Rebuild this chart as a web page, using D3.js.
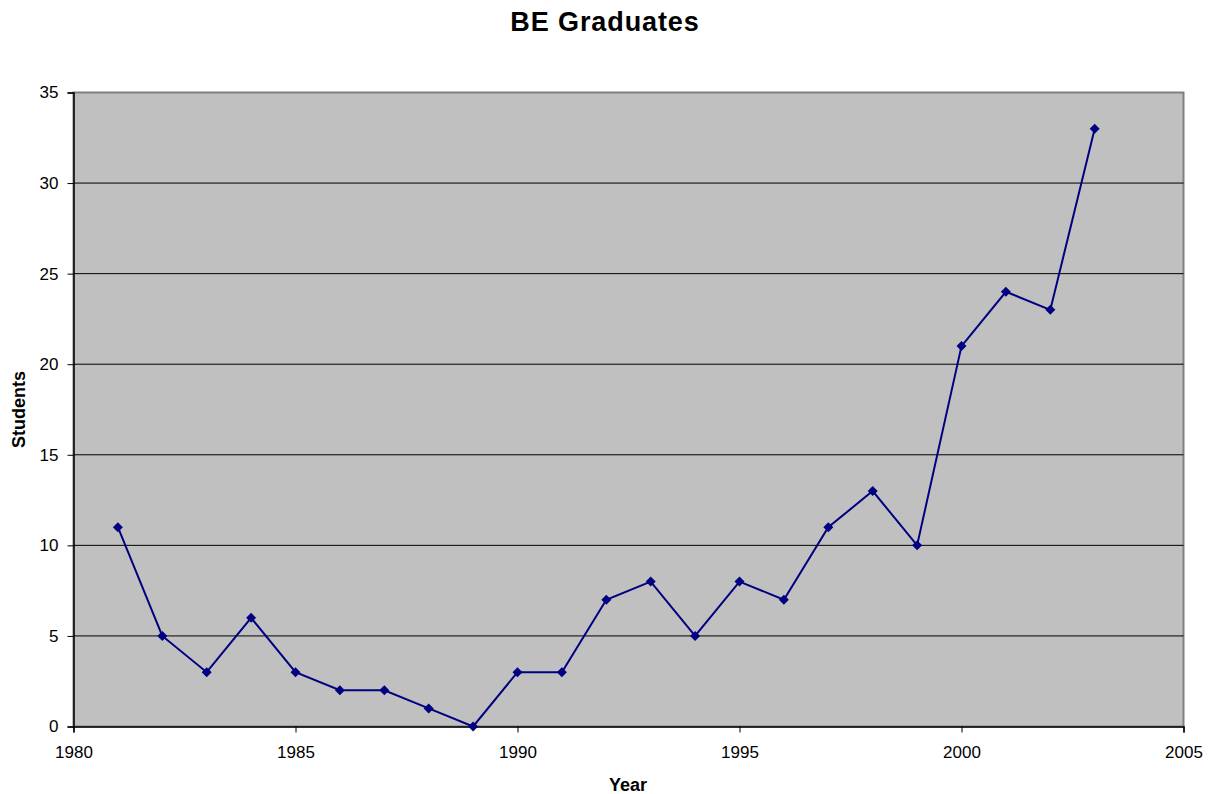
<!DOCTYPE html>
<html>
<head>
<meta charset="utf-8">
<script src="https://cdn.jsdelivr.net/npm/d3@7"></script>
<style>
  body { margin: 0; background: #fff; }
  text { font-family: "Liberation Sans", Arial, sans-serif; }
</style>
</head>
<body>
<svg id="chart" width="1209" height="794"></svg>
<script>
const years = [1981, 1982, 1983, 1984, 1985, 1986, 1987, 1988, 1989, 1990, 1991, 1992,
  1993, 1994, 1995, 1996, 1997, 1998, 1999, 2000, 2001, 2002, 2003];
const students = [11, 5, 3, 6, 3, 2, 2, 1, 0, 3, 3, 7, 8, 5, 8, 7, 11, 13, 10, 21, 24, 23, 33];
const xTicks = [1980, 1985, 1990, 1995, 2000, 2005];
const yTicks = [0, 5, 10, 15, 20, 25, 30, 35];

const svg = d3.select('#chart');
const plotLeft = 73.5, plotRight = 1183.5, plotTop = 92.5, plotBottom = 726.5;

const x = d3.scaleLinear().domain([1980, 2005]).range([plotLeft, plotRight]);
const y = d3.scaleLinear().domain([0, 35]).range([plotBottom, plotTop]);

// plot background
svg.append('rect')
  .attr('x', plotLeft).attr('y', plotTop)
  .attr('width', plotRight - plotLeft).attr('height', plotBottom - plotTop)
  .attr('fill', '#c0c0c0')
  .attr('stroke', '#808080')
  .attr('stroke-width', 2);

// gridlines
svg.append('g').selectAll('line')
  .data(yTicks.filter(d => d > 0 && d < 35))
  .join('line')
    .attr('x1', plotLeft).attr('x2', plotRight)
    .attr('y1', d => y(d)).attr('y2', d => y(d))
    .attr('stroke', '#000')
    .attr('stroke-width', 1);

// axes
const xAxis = svg.append('g')
  .attr('transform', `translate(0,${plotBottom})`)
  .call(d3.axisBottom(x).tickValues(xTicks).tickFormat(d3.format('d')).tickSizeOuter(0).tickSize(6).tickPadding(13));
const yAxis = svg.append('g')
  .attr('transform', `translate(${plotLeft},0)`)
  .call(d3.axisLeft(y).tickValues(yTicks).tickSizeOuter(0).tickSize(6).tickPadding(9));

[xAxis, yAxis].forEach(function(g) {
  g.select('.domain').attr('stroke', '#000').attr('stroke-width', 1.5);
  g.selectAll('.tick line').attr('stroke', '#000');
  g.selectAll('.tick text')
    .attr('fill', '#000')
    .style('font-size', '17px')
    .style('font-family', '"Liberation Sans", Arial, sans-serif');
});

// series line
const line = d3.line()
  .x((d, i) => x(years[i]))
  .y(d => y(d));

svg.append('path')
  .datum(students)
  .attr('d', line)
  .attr('fill', 'none')
  .attr('stroke', '#000080')
  .attr('stroke-width', 2);

// diamond markers
svg.append('g').selectAll('path')
  .data(students)
  .join('path')
    .attr('transform', (d, i) => `translate(${x(years[i])},${y(d)})`)
    .attr('d', 'M0,-5L5,0L0,5L-5,0Z')
    .attr('fill', '#000080');

// title and labels
svg.append('text')
  .attr('x', 605).attr('y', 31)
  .attr('text-anchor', 'middle')
  .style('font-size', '27px')
  .style('font-weight', 'bold')
  .style('letter-spacing', '0.9px')
  .text('BE Graduates');

svg.append('text')
  .attr('x', 628).attr('y', 791)
  .attr('text-anchor', 'middle')
  .style('font-size', '18px')
  .style('font-weight', 'bold')
  .text('Year');

svg.append('text')
  .attr('transform', `translate(25,${(plotTop + plotBottom) / 2}) rotate(-90)`)
  .attr('text-anchor', 'middle')
  .style('font-size', '18px')
  .style('font-weight', 'bold')
  .text('Students');
</script>
</body>
</html>
